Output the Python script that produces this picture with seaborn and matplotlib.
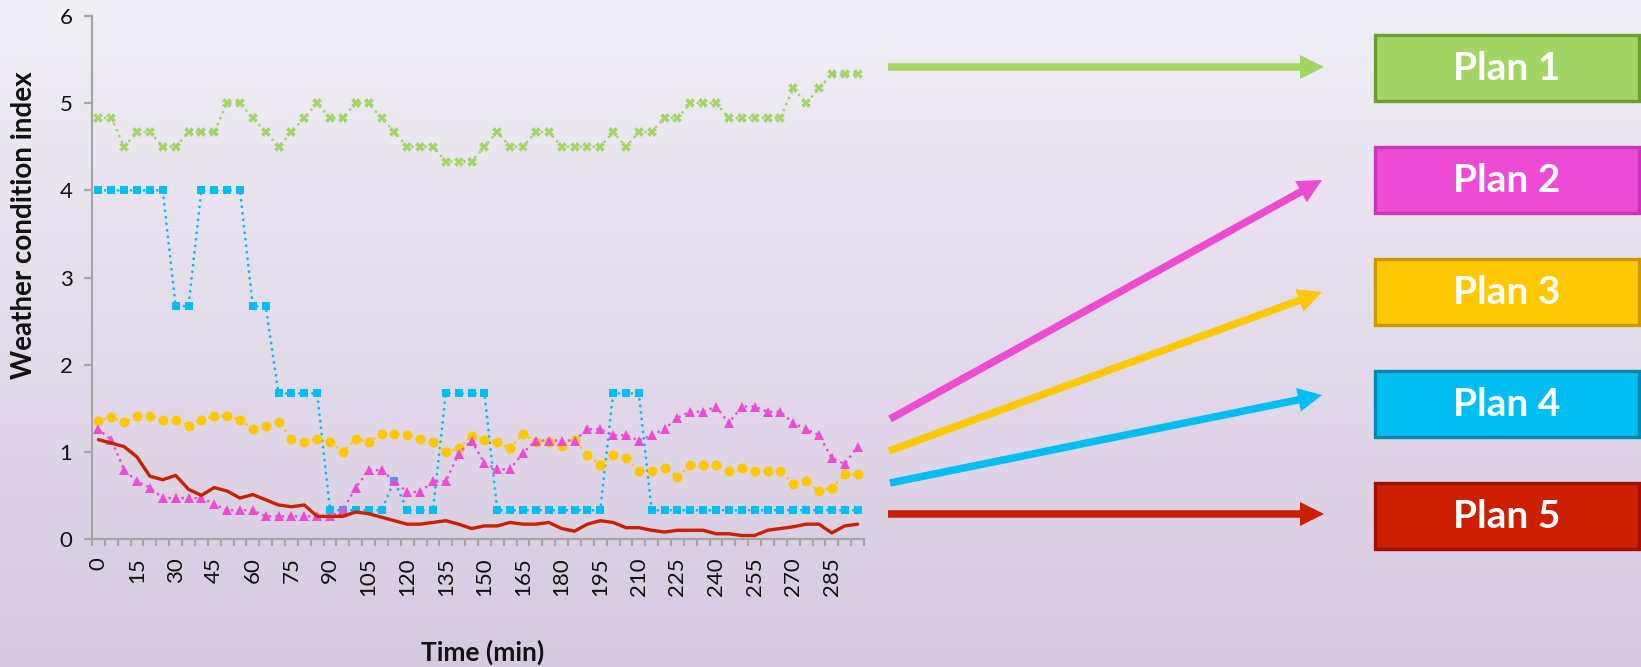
import numpy as np
import pandas as pd
import matplotlib
matplotlib.use("Agg")
import matplotlib.pyplot as plt
from matplotlib.patches import Rectangle, FancyArrow
import seaborn as sns

# ---- data -------------------------------------------------------------
time_min = list(range(0, 300, 5))

plan1 = [4.83, 4.83, 4.50, 4.67, 4.67, 4.50, 4.50, 4.67, 4.67, 4.67,
         5.00, 5.00, 4.83, 4.67, 4.50, 4.67, 4.83, 5.00, 4.83, 4.83,
         5.00, 5.00, 4.83, 4.67, 4.50, 4.50, 4.50, 4.33, 4.33, 4.33,
         4.50, 4.67, 4.50, 4.50, 4.67, 4.67, 4.50, 4.50, 4.50, 4.50,
         4.67, 4.50, 4.67, 4.67, 4.83, 4.83, 5.00, 5.00, 5.00, 4.83,
         4.83, 4.83, 4.83, 4.83, 5.17, 5.00, 5.17, 5.33, 5.33, 5.33]

plan2 = [1.26, 1.14, 0.79, 0.66, 0.59, 0.47, 0.47, 0.47, 0.47, 0.40,
         0.33, 0.33, 0.33, 0.26, 0.26, 0.26, 0.26, 0.26, 0.26, 0.33,
         0.59, 0.79, 0.79, 0.66, 0.54, 0.54, 0.66, 0.66, 0.98, 1.13,
         0.87, 0.80, 0.80, 0.99, 1.13, 1.13, 1.13, 1.13, 1.26, 1.26,
         1.19, 1.19, 1.13, 1.19, 1.26, 1.39, 1.46, 1.46, 1.52, 1.33,
         1.52, 1.52, 1.46, 1.46, 1.33, 1.26, 1.19, 0.93, 0.86, 1.06]

plan3 = [1.35, 1.40, 1.34, 1.41, 1.41, 1.37, 1.37, 1.30, 1.37, 1.41,
         1.41, 1.37, 1.26, 1.30, 1.34, 1.15, 1.11, 1.15, 1.11, 1.00,
         1.15, 1.11, 1.21, 1.21, 1.19, 1.15, 1.11, 1.00, 1.04, 1.18,
         1.14, 1.11, 1.04, 1.21, 1.11, 1.11, 1.07, 1.14, 0.96, 0.85,
         0.96, 0.93, 0.78, 0.78, 0.81, 0.71, 0.85, 0.85, 0.85, 0.78,
         0.81, 0.78, 0.78, 0.78, 0.63, 0.67, 0.55, 0.59, 0.74, 0.74]

plan4 = ([4.00] * 6 + [2.67] * 2 + [4.00] * 4 + [2.67] * 2 + [1.67] * 4
         + [0.33] * 5 + [0.67] + [0.33] * 3 + [1.67] * 4 + [0.33] * 9
         + [1.67] * 3 + [0.33] * 17)

plan5 = [1.14, 1.10, 1.06, 0.94, 0.72, 0.68, 0.73, 0.57, 0.50, 0.59,
         0.55, 0.47, 0.51, 0.45, 0.39, 0.37, 0.39, 0.26, 0.26, 0.26,
         0.31, 0.29, 0.25, 0.21, 0.17, 0.17, 0.19, 0.21, 0.17, 0.12,
         0.15, 0.15, 0.19, 0.17, 0.17, 0.19, 0.12, 0.09, 0.17, 0.21,
         0.19, 0.13, 0.13, 0.10, 0.08, 0.10, 0.10, 0.10, 0.06, 0.06,
         0.04, 0.04, 0.10, 0.12, 0.14, 0.17, 0.17, 0.07, 0.15, 0.17]

plan_names = ["Plan 1", "Plan 2", "Plan 3", "Plan 4", "Plan 5"]
y_ticks = [0, 1, 2, 3, 4, 5, 6]

df = pd.DataFrame({
    "pos": np.arange(len(time_min)),
    "time": time_min,
    "Plan 1": plan1, "Plan 2": plan2, "Plan 3": plan3,
    "Plan 4": plan4, "Plan 5": plan5,
})

# ---- style ------------------------------------------------------------
sns.set_theme(style="white")
plt.rcParams["font.family"] = ["Lato", "DejaVu Sans"]

W, H = 1641, 667
fig = plt.figure(figsize=(W / 100, H / 100), dpi=100)

# gradient background
bg = fig.add_axes([0, 0, 1, 1], zorder=-10)
top = np.array([241, 239, 246]) / 255
bot = np.array([213, 201, 223]) / 255
t = np.linspace(0, 1, 256)[:, None]
grad = top[None, :] * (1 - t) + bot[None, :] * t
bg.imshow(grad[:, None, :], aspect="auto", extent=[0, 1, 0, 1], origin="upper")
bg.set_axis_off()

# main chart axes
ax_l, ax_r, ax_t, ax_b = 92, 864, 16, 539
ax = fig.add_axes([ax_l / W, 1 - ax_b / H, (ax_r - ax_l) / W, (ax_b - ax_t) / H])
ax.patch.set_alpha(0)

colors = {
    "Plan 1": "#A2D563",
    "Plan 2": "#EE4BD5",
    "Plan 3": "#FFC800",
    "Plan 4": "#00BEF2",
    "Plan 5": "#CC1F00",
}
# round dots: near-zero dash length with round caps
dot = (0, (0.05, 2.3))
styles = {
    "Plan 1": dict(marker="X", markersize=7.0, linestyle=dot, linewidth=2.0),
    "Plan 4": dict(marker="s", markersize=6.4, linestyle=dot, linewidth=2.0),
    "Plan 3": dict(marker="o", markersize=7.2, linestyle=dot, linewidth=2.0),
    "Plan 2": dict(marker="^", markersize=7.2, linestyle=dot, linewidth=2.0),
    "Plan 5": dict(marker=None, linestyle="-", linewidth=2.4),
}
for name in ["Plan 1", "Plan 4", "Plan 3", "Plan 2", "Plan 5"]:
    c = colors[name]
    sns.lineplot(data=df, x="pos", y=name, ax=ax, color=c,
                 markeredgecolor=c, markeredgewidth=0,
                 dash_capstyle="round", solid_joinstyle="round",
                 **styles[name])

ax.set_xlim(-0.5, len(time_min) - 0.5)
ax.set_ylim(0, 6)
ax.set_yticks(y_ticks)
ax.set_yticklabels([str(v) for v in y_ticks])

lab_pos = list(range(0, len(time_min), 3))
ax.set_xticks(lab_pos)
ax.set_xticklabels([str(time_min[i]) for i in lab_pos], rotation=90)
ax.set_xticks(np.arange(-0.5, len(time_min)), minor=True)

ax.set_xlabel("")
ax.set_ylabel("")
for s in ["top", "right"]:
    ax.spines[s].set_visible(False)
for s in ["left", "bottom"]:
    ax.spines[s].set_color("#A6A6A6")
    ax.spines[s].set_linewidth(1.6)
ax.tick_params(axis="y", which="major", direction="out", length=6, width=1.6,
               color="#A6A6A6", labelsize=16, pad=8, left=True)
ax.tick_params(axis="x", which="major", length=0, labelsize=16, pad=13)
ax.tick_params(axis="x", which="minor", direction="out", length=5, width=1.6,
               color="#A6A6A6", bottom=True)
for lbl in ax.get_xticklabels() + ax.get_yticklabels():
    lbl.set_color("#111111")

fig.text(24 / W, 1 - 225 / H, "Weather condition index", rotation=90,
         ha="center", va="center", fontsize=20, fontweight="bold", color="#111111")
fig.text(483 / W, 1 - 652 / H, "Time (min)", ha="center", va="center",
         fontsize=19, fontweight="bold", color="#111111")

# overlay in pixel coordinates for arrows and plan boxes
ov = fig.add_axes([0, 0, 1, 1], zorder=5)
ov.set_xlim(0, W)
ov.set_ylim(H, 0)
ov.set_axis_off()
ov.patch.set_alpha(0)

arrows = [
    ("Plan 1", (888, 67), (1324, 67)),
    ("Plan 2", (890, 419), (1322, 180)),
    ("Plan 3", (889, 451), (1322, 292)),
    ("Plan 4", (890, 483), (1322, 395)),
    ("Plan 5", (888, 514), (1324, 514)),
]
for name, (x0, y0), (x1, y1) in arrows:
    ov.add_patch(FancyArrow(x0, y0, x1 - x0, y1 - y0, width=7.5,
                            head_width=24, head_length=24,
                            length_includes_head=True,
                            color=colors[name], linewidth=0))

box_edge = {
    "Plan 1": "#6E9E30",
    "Plan 2": "#C936B4",
    "Plan 3": "#C79B00",
    "Plan 4": "#0088AA",
    "Plan 5": "#A01000",
}
box_tops = [35, 147, 259, 371, 483]
box_h = 66
for name, ty in zip(plan_names, box_tops):
    ov.add_patch(Rectangle((1375, ty), 264, box_h, facecolor=colors[name],
                           edgecolor=box_edge[name], linewidth=2.4))
    ov.text(1507, ty + box_h / 2 + 1, name, ha="center", va="center",
            fontsize=28, fontweight="bold", color="white")

fig.savefig("out.png", dpi=100)
